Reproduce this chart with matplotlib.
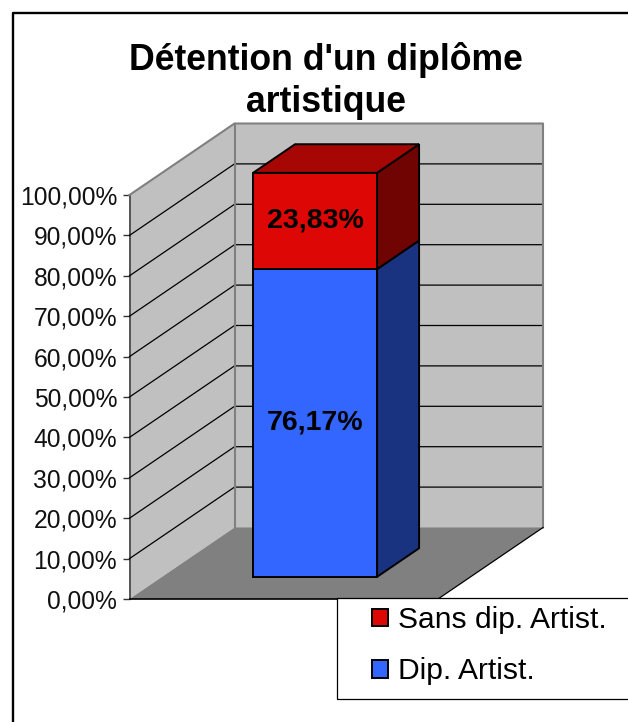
import matplotlib
matplotlib.use('Agg')
import matplotlib.pyplot as plt
from matplotlib.patches import Polygon, Rectangle, Patch
from matplotlib.lines import Line2D

series_names = ['Dip. Artist.', 'Sans dip. Artist.']
series_values = [76.17, 23.83]
value_labels = ['76,17%', '23,83%']
tick_values = [0, 10, 20, 30, 40, 50, 60, 70, 80, 90, 100]
tick_labels = ['0,00%', '10,00%', '20,00%', '30,00%', '40,00%', '50,00%',
               '60,00%', '70,00%', '80,00%', '90,00%', '100,00%']
title_text = "Détention d'un diplôme\nartistique"

W, H = 628, 722
plt.rcParams['font.family'] = ['Liberation Sans', 'DejaVu Sans']

fig = plt.figure(figsize=(W/100, H/100), dpi=100)
ax = fig.add_axes([129.5/W, (H-599)/H, 308.5/W, 404/H])
ax.set_xlim(0, 1)
ax.set_ylim(0, 100)
ax.patch.set_visible(False)

# depth of the fake 3d box, in data units per full depth
DX = 105/308.5
DY = 71.5/4.04


def pt(x, y, d):
    return (x + d*DX, y + d*DY)


def face(pts, color, edge, lw, z):
    ax.add_patch(Polygon(pts, closed=True, facecolor=color, edgecolor=edge,
                         linewidth=lw, zorder=z, clip_on=False, joinstyle='miter'))


# walls and floor
face([pt(0, 0, 0), pt(0, 100, 0), pt(0, 100, 1), pt(0, 0, 1)], '#C0C0C0', 'none', 0, 1)
face([pt(0, 0, 1), pt(0, 100, 1), pt(1, 100, 1), pt(1, 0, 1)], '#C0C0C0', 'none', 0, 1)
face([pt(0, 0, 0), pt(1, 0, 0), pt(1, 0, 1), pt(0, 0, 1)], '#808080', 'none', 0, 2)

for t in tick_values[1:-1]:
    xs, ys = zip(pt(0, t, 0), pt(0, t, 1), pt(1, t, 1))
    ax.plot(xs, ys, color='black', lw=0.9, zorder=3, clip_on=False)

# wall outlines
xs, ys = zip(pt(0, 100, 0), pt(0, 100, 1), pt(1, 100, 1), pt(1, 0, 1))
ax.plot(xs, ys, color='#808080', lw=1.5, zorder=3, clip_on=False)
xs, ys = zip(pt(0, 0, 1), pt(0, 100, 1))
ax.plot(xs, ys, color='#808080', lw=1.5, zorder=3, clip_on=False)
xs, ys = zip(pt(1, 0, 0), pt(1, 0, 1))
ax.plot(xs, ys, color='black', lw=0.9, zorder=3, clip_on=False)
ax.plot([0, 1], [0, 0], color='black', lw=1.2, zorder=3, clip_on=False)

# stacked bar
x0, x1 = 0.295, 0.697
d0, d1 = 0.31, 0.71
colors = ['#3366FF', '#DD0806']
sides = ['#1A3380', '#700403']
top_color = '#A60604'
base = 0
for val, c, s in zip(series_values, colors, sides):
    top = base + val
    face([pt(x1, base, d0), pt(x1, top, d0), pt(x1, top, d1), pt(x1, base, d1)], s, 'black', 1.4, 5)
    face([pt(x0, base, d0), pt(x1, base, d0), pt(x1, top, d0), pt(x0, top, d0)], c, 'black', 1.4, 6)
    base = top
face([pt(x0, base, d0), pt(x1, base, d0), pt(x1, base, d1), pt(x0, base, d1)], top_color, 'black', 1.4, 5)

base = 0
for val, lab in zip(series_values, value_labels):
    x, y = pt((x0+x1)/2, base + val/2, d0)
    ax.text(x, y + 0.2, lab, ha='center', va='center', fontsize=20.5, fontweight='bold',
            color='black', zorder=7)
    base += val

ax.set_xticks([])
ax.set_yticks(tick_values)
ax.set_yticklabels(tick_labels, fontsize=17.7, color='#111111')
ax.tick_params(axis='y', length=5.4, width=1, pad=3.5, color='#333333')
for side in ['top', 'right', 'bottom']:
    ax.spines[side].set_visible(False)
ax.spines['left'].set_color('#404040')
ax.spines['left'].set_linewidth(1.2)

fig.text(326/W, 1 - 42/H, title_text, ha='center', va='top', fontsize=25.7,
         fontweight='bold', linespacing=1.26)

# chart frame, runs off the picture on the right and bottom
fig.add_artist(Line2D([12.5/W, 12.5/W, 1], [0, 1 - 13/H, 1 - 13/H], color='black', lw=1.7))

# legend box also runs off the right edge
fig.add_artist(Rectangle((336.5/W, 1 - 699/H), 300/W, 101.5/H, transform=fig.transFigure,
                         facecolor='white', edgecolor='black', lw=0.9))
handles = [Patch(facecolor=colors[1], edgecolor='black', lw=1.4),
           Patch(facecolor=colors[0], edgecolor='black', lw=1.4)]
fig.legend(handles, [series_names[1], series_names[0]], loc='upper left',
           bbox_to_anchor=(372/W, 1 - 606/H), frameon=False, fontsize=21.6,
           handlelength=0.53, handleheight=0.53, handletextpad=0.33, labelspacing=0.78,
           borderpad=0, borderaxespad=0)

fig.savefig('out.png', dpi=100)
